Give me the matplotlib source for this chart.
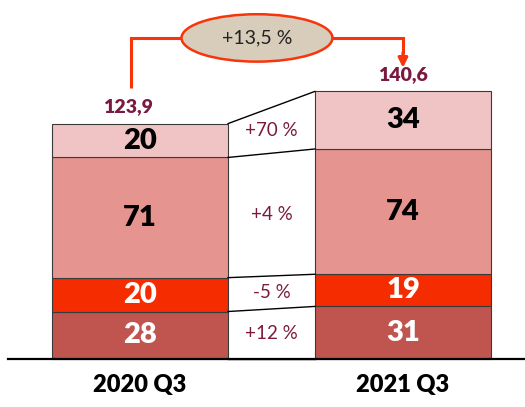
import numpy as np
import matplotlib.pyplot as plt
from matplotlib.patches import Ellipse

plt.rcParams['font.family'] = ['Lato', 'DejaVu Sans']

# data
quarters = ['2020 Q3', '2021 Q3']
totals = ['123,9', '140,6']
seg_2020 = [28, 20, 71, 20]
seg_2021 = [31, 19, 74, 34]
changes = ['+12 %', '-5 %', '+4 %', '+70 %']
growth = '+13,5 %'

colors = ['#C0554F', '#F52C00', '#E69490', '#F0C4C4']
txt_colors = ['white', 'white', 'black', 'black']
maroon = '#7A1A40'
arrow_red = '#F8340A'

fig = plt.figure(figsize=(5.25, 4.07), dpi=100)
ax = fig.add_axes([0, 0, 1, 1])
ax.set_xlim(-0.532, 1.464)
ax.set_ylim(-28.4, 212)
ax.axis('off')

x = np.array([0, 1])
w = 0.67
segs = np.array([seg_2020, seg_2021])
bottoms = np.zeros(2)
for i in range(4):
    ax.bar(x, segs[:, i], w, bottom=bottoms, color=colors[i],
           edgecolor='#3a3a3a', linewidth=0.8, zorder=2)
    for j in range(2):
        ax.text(x[j], bottoms[j] + segs[j, i] / 2, str(segs[j, i]),
                ha='center', va='center', fontsize=21, fontweight='heavy',
                color=txt_colors[i], zorder=3)
    bottoms += segs[:, i]

# connector between bars
cum = np.vstack([np.zeros(2), np.cumsum(segs, axis=1).T])
xl, xr = x[0] + w / 2, x[1] - w / 2
for k in range(len(cum)):
    ax.plot([xl, xr], [cum[k, 0], cum[k, 1]], color='black', lw=1, zorder=3)
for i in range(4):
    ymid = (cum[i, 0] + cum[i + 1, 0] + cum[i, 1] + cum[i + 1, 1]) / 4
    ax.text((xl + xr) / 2, ymid, changes[i], ha='center', va='center',
            fontsize=13.5, color=maroon, zorder=3)

# baseline
ax.plot([-0.5, 1.464], [0, 0], color='black', lw=1.6, zorder=4)

# totals
tops = cum[-1]
ax.text(x[0] - 0.045, tops[0] + 10, totals[0], ha='center', va='center',
        fontsize=14, fontweight='heavy', color=maroon)
ax.text(x[1], tops[1] + 10, totals[1], ha='center', va='center',
        fontsize=14, fontweight='heavy', color=maroon)

# growth arrow
yh = 189.6
ax.plot([x[0] - 0.034, x[0] - 0.034, x[1], x[1]],
        [tops[0] + 21, yh, yh, tops[1] + 22], color=arrow_red, lw=2.2,
        solid_capstyle='butt', solid_joinstyle='miter', zorder=4)
ax.annotate('', xy=(x[1], tops[1] + 14), xytext=(x[1], tops[1] + 23),
            arrowprops=dict(arrowstyle='-|>', color=arrow_red, lw=2.2,
                            mutation_scale=14, shrinkA=0, shrinkB=0), zorder=4)
ax.add_patch(Ellipse((0.445, yh), 0.574, 28, facecolor='#D8CCBB',
                     edgecolor=arrow_red, lw=1.8, zorder=5))
ax.text(0.445, yh, growth, ha='center', va='center', fontsize=14,
        color='#222222', zorder=6)

# x labels
for j in range(2):
    ax.text(x[j], -15.5, quarters[j], ha='center', va='center',
            fontsize=17, fontweight='heavy', color='black')

fig.savefig('out.png', dpi=100)
